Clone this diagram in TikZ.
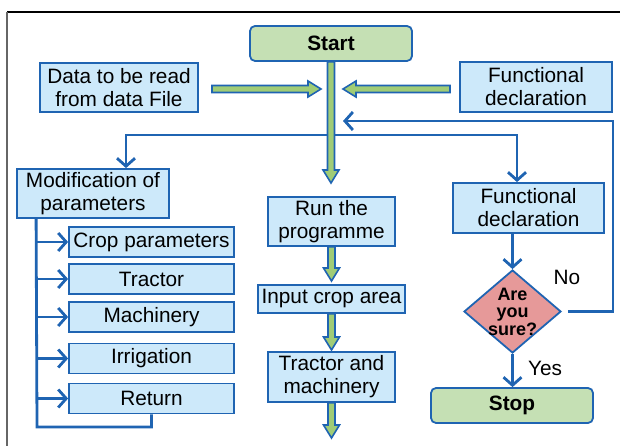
\documentclass[tikz,border=0pt]{standalone}
\usepackage{fontspec}
\setmainfont{Liberation Sans}
\usetikzlibrary{shapes.geometric,arrows.meta,calc}
\definecolor{bdark}{RGB}{31,100,178}
\definecolor{lblue}{RGB}{205,233,250}
\definecolor{lgreen}{RGB}{197,224,180}
\definecolor{agreen}{RGB}{160,204,118}
\definecolor{lred}{RGB}{230,153,153}
\tikzset{
  box/.style={draw=bdark, line width=1.8pt, fill=lblue, align=center, inner sep=0pt,
    font=\fontsize{20.8}{23}\selectfont},
  term/.style={box, fill=lgreen, rounded corners=5pt, font=\fontsize{20.8}{23}\selectfont\bfseries},
  bline/.style={draw=bdark, line width=2.8pt},
  barrow/.style={bline, -{Straight Barb[length=8pt,width=18pt]}},
  fatarrow/.style={draw=bdark, line width=1.6pt, fill=agreen, line join=miter},
  lbl/.style={font=\fontsize{20.8}{23}\selectfont},
}
\newcommand\fatarr[2]{%
  \coordinate (fah) at ($(#2)!13pt!(#1)$);
  \draw[fatarrow] ($(#1)!3.5pt!90:(#2)$) -- ($(fah)!3.5pt!90:(#2)$) -- ($(fah)!8pt!90:(#2)$) -- (#2)
    -- ($(fah)!8pt!-90:(#2)$) -- ($(fah)!3.5pt!-90:(#2)$) -- ($(#1)!3.5pt!-90:(#2)$) -- cycle;}
\begin{document}
\begin{tikzpicture}[x=1pt,y=-1pt]
\useasboundingbox (0,0) rectangle (620,446);
% frame
\draw[black, line width=1.6pt] (7,12) -- (620,12);
\draw[black!60, line width=2pt] (7,12) -- (7,446);
% nodes
\node[term, minimum width=162, minimum height=35] (start) at (331,43.5) {Start};
\node[box, minimum width=158, minimum height=49] (data) at (119,87.5) {Data to be read\\from data File};
\node[box, minimum width=152, minimum height=50] (fdtop) at (536,87) {Functional\\declaration};
\node[box, minimum width=152, minimum height=49] (mod) at (93,193.5) {Modification of\\parameters};
\node[box, minimum width=127, minimum height=49] (run) at (331.5,221.5) {Run the\\programme};
\node[box, minimum width=147, minimum height=28] (inp) at (331.5,299) {Input crop area};
\node[box, minimum width=127, minimum height=50] (tm) at (331.5,377) {Tractor and\\machinery};
\node[box, minimum width=151, minimum height=50] (fd) at (528.5,208) {Functional\\declaration};
\node[diamond, draw=bdark, line width=1.8pt, fill=lred, minimum width=97, minimum height=83, inner sep=0pt] (sure) at (512.5,311.5) {};
\node[align=center, inner sep=0pt, font=\fontsize{18}{17.5}\selectfont\bfseries] (suretxt) at (sure.center) {Are\\you\\sure?};
\node[term, minimum width=162, minimum height=35] (stop) at (512,405.5) {Stop};
\node[box, minimum width=165, minimum height=30] (crop) at (151.5,242) {Crop parameters};
\node[box, minimum width=165, minimum height=30] (trac) at (151.5,279) {Tractor};
\node[box, minimum width=165, minimum height=30] (mach) at (151.5,317) {Machinery};
\node[box, minimum width=165, minimum height=30] (irr) at (151.5,358.5) {Irrigation};
\node[box, minimum width=165, minimum height=30] (ret) at (151.5,398.5) {Return};
\node[lbl] (no) at (567,277) {No};
\node[lbl] (yes) at (545,368) {Yes};
% coordinates
\coordinate (j) at (331,135);
\coordinate (mt) at ($(mod.north)+(33,0)$);
\coordinate (ft) at ($(fd.north)+(-11.5,0)$);
\coordinate (looptip) at (343,121);
\coordinate (ltop) at ($(mod.south west)+(20,0)$);
\coordinate (lbot) at (37,427);
\coordinate (dstart) at (212,89);
\coordinate (dtip) at (321,89);
\coordinate (fstart) at (450,89);
\coordinate (ftip) at (343,89);
\coordinate (stip) at (331,183);
\coordinate (rtip) at (331.5,281);
\coordinate (itip) at (331.5,350);
\coordinate (ttip) at (331.5,438);
% blue connectors
\draw[barrow] (j) -| (mt);
\draw[barrow] (j) -| (ft);
\draw[barrow] ($(sure.east)+(6,0)$) -- (613,311.5) |- (looptip);
\draw[barrow] (fd.south -| sure.north) -- (sure.north);
\draw[barrow] (sure.south) -- (stop.north -| sure.south);
\draw[bline] (ltop) -- (lbot) -| (ret.south);
\foreach \n in {crop,trac,mach,irr,ret}
  \draw[barrow] (\n.west -| ltop) -- (\n.west);
% fat green arrows
\fatarr{start.south}{stip}
\fatarr{dstart}{dtip}
\fatarr{fstart}{ftip}
\fatarr{run.south}{rtip}
\fatarr{inp.south}{itip}
\fatarr{tm.south}{ttip}
\end{tikzpicture}
\end{document}
